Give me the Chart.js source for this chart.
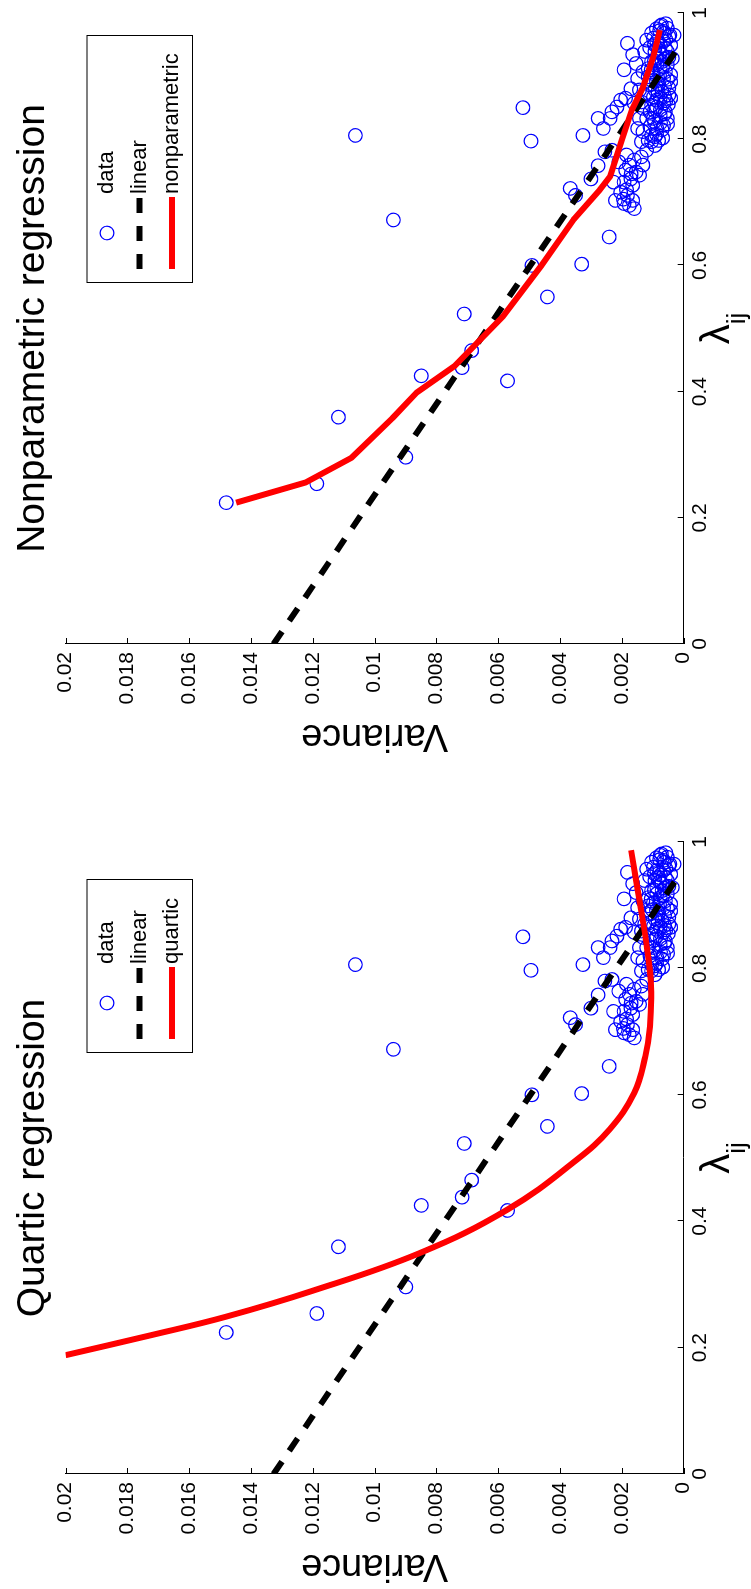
<!DOCTYPE html>
<html>
<head>
<meta charset="utf-8">
<script src="https://cdn.jsdelivr.net/npm/chart.js@4.4.1/dist/chart.umd.min.js"></script>
<style>
html, body { margin: 0; padding: 0; background: #fff; overflow: hidden; }
/* the figure is laid out landscape and turned a quarter turn, like the printed page */
#fig { position: absolute; left: 0; top: 0; width: 1589px; height: 751px;
       transform-origin: 0 0; transform: translateY(1589px) rotate(-90deg); background: #fff; }
#quartic { position: absolute; left: 0; top: 0; }
#nonpar { position: absolute; left: 800px; top: 0; }
</style>
</head>
<body>
<div id="fig">
  <canvas id="quartic" width="800" height="751"></canvas>
  <canvas id="nonpar" width="789" height="751"></canvas>
</div>
<script>
'use strict';
//___________DATA__________________
var xTickVals = [0, 0.2, 0.4, 0.6, 0.8, 1];
var xTickLabels = ['0', '0.2', '0.4', '0.6', '0.8', '1'];
var yTickVals = [0, 0.002, 0.004, 0.006, 0.008, 0.01, 0.012, 0.014, 0.016, 0.018, 0.02];
var yTickLabels = ['0', '0.002', '0.004', '0.006', '0.008', '0.01', '0.012', '0.014', '0.016', '0.018', '0.02'];

// scattered observations (lambda_ij, variance)
var dataLambda = [
  0.224, 0.254, 0.3595, 0.296, 0.425, 0.438, 0.465, 0.417, 0.523, 0.550,
  0.600, 0.602, 0.645, 0.672, 0.806, 0.850, 0.797, 0.806, 0.722, 0.711,
  0.737, 0.758, 0.780,
  0.7825, 0.764, 0.751, 0.759, 0.767, 0.772, 0.759, 0.748, 0.737, 0.732,
  0.727, 0.743, 0.716, 0.711, 0.703, 0.698, 0.703, 0.690, 0.695, 0.732,
  0.7825, 0.796, 0.804, 0.775, 0.745, 0.720, 0.705,
  0.952, 0.910, 0.934, 0.920, 0.896, 0.880, 0.862, 0.8434, 0.833, 0.817,
  0.833, 0.851, 0.865, 0.857, 0.878, 0.907, 0.939, 0.957, 0.968, 0.955,
  0.979, 0.971, 0.976, 0.963, 0.955, 0.949, 0.939, 0.934, 0.928, 0.923,
  0.912, 0.904, 0.912, 0.918, 0.902, 0.896, 0.888, 0.886, 0.870, 0.867,
  0.875, 0.881, 0.865, 0.857, 0.851, 0.843, 0.849, 0.833, 0.833, 0.838,
  0.833, 0.822, 0.817, 0.820, 0.812, 0.806, 0.798, 0.798, 0.790, 0.833,
  0.817, 0.796, 0.8434, 0.928, 0.965, 0.944, 0.944, 0.939, 0.891, 0.865,
  0.878, 0.899, 0.859, 0.907, 0.918, 0.923, 0.870, 0.854,
  0.960, 0.975, 0.981, 0.948, 0.927, 0.892, 0.861, 0.826,
  0.965, 0.958, 0.950, 0.945, 0.937, 0.930, 0.924, 0.915, 0.910, 0.901,
  0.895, 0.893, 0.884, 0.876, 0.872, 0.868, 0.862, 0.855, 0.847, 0.845,
  0.840, 0.828, 0.824, 0.815, 0.808, 0.802, 0.972, 0.983, 0.968
];
var dataVar = [
  0.0148, 0.01187, 0.01117, 0.00899, 0.00849, 0.00717, 0.00686, 0.0057, 0.0071, 0.00441,
  0.00491, 0.00330, 0.00241, 0.00939, 0.01062, 0.0052, 0.00494, 0.00326, 0.00367, 0.0035,
  0.0030, 0.00277, 0.00255,
  0.00232, 0.0021, 0.00188, 0.00176, 0.0016, 0.00137, 0.00132, 0.00154, 0.00171, 0.00193,
  0.00165, 0.00143, 0.00204, 0.00182, 0.00165, 0.00193, 0.00221, 0.0016, 0.00176, 0.00227,
  0.0012, 0.00104, 0.00093, 0.00185, 0.0017, 0.00185, 0.00195,
  0.00182, 0.00193, 0.00165, 0.00154, 0.00149, 0.00171, 0.00204, 0.00232, 0.00277, 0.0026,
  0.00238, 0.00216, 0.00188, 0.0016, 0.00143, 0.00132, 0.00126, 0.0012, 0.00104, 0.00087,
  0.00076, 0.00065, 0.00053, 0.00048, 0.00065, 0.00042, 0.00053, 0.0007, 0.00087, 0.00104,
  0.00115, 0.00098, 0.00076, 0.00053, 0.00042, 0.00065, 0.00081, 0.00109, 0.00126, 0.00098,
  0.0007, 0.00048, 0.00042, 0.00065, 0.00087, 0.00109, 0.00132, 0.0012, 0.00098, 0.00076,
  0.00053, 0.00065, 0.00087, 0.00109, 0.00132, 0.00104, 0.00081, 0.00115, 0.00093, 0.00143,
  0.00149, 0.00137, 0.00059, 0.00037, 0.00031, 0.00059, 0.00081, 0.00093, 0.00042, 0.00076,
  0.00093, 0.00115, 0.00137, 0.00059, 0.00087, 0.0007, 0.00048, 0.00104,
  0.00098, 0.00088, 0.00072, 0.00075, 0.00062, 0.00088, 0.00058, 0.00075,
  0.00045, 0.00058, 0.00095, 0.0011, 0.00078, 0.00048, 0.00095, 0.00068, 0.00105, 0.00078,
  0.00052, 0.00102, 0.00062, 0.00083, 0.00112, 0.00062, 0.00088, 0.0005, 0.00075, 0.00095,
  0.00062, 0.00095, 0.00052, 0.0007, 0.00088, 0.00068, 0.00078, 0.00058, 0.00062
];

// linear fit (same on both panels)
var linLambda = [0, 0.94];
var linVar = [0.01327, 0.00025];

// quartic fit
var quartLambda = [0.188, 0.22, 0.249, 0.29, 0.349, 0.419, 0.498, 0.545, 0.603, 0.661,
                   0.708, 0.772, 0.829, 0.898, 0.987];
var quartVar = [0.0200, 0.0172, 0.0148, 0.0120, 0.00857, 0.00568, 0.00344, 0.0024, 0.0016, 0.00124,
                0.00109, 0.00106, 0.00118, 0.0014, 0.0017];

// nonparametric fit
var npLambda = [0.224, 0.256, 0.295, 0.358, 0.398, 0.441, 0.519, 0.600, 0.672, 0.720,
                0.741, 0.799, 0.846, 0.883, 0.931, 0.973];
var npVar = [0.01448, 0.01223, 0.01075, 0.00942, 0.00865, 0.0074, 0.00585, 0.0046, 0.00357, 0.00271,
             0.00238, 0.0020, 0.00168, 0.00131, 0.00098, 0.00077];

//___________HELPERS__________________
var FONT = '"Liberation Sans", Arial, Helvetica, sans-serif';

function toPoints(xs, ys) {
  var pts = [];
  for (var i = 0; i < xs.length; i++) {
    pts.push({x: xs[i], y: ys[i]});
  }
  return pts;
}

//___________MATLAB STYLE DECORATION (ticks, labels, legend)__________________
var matlabDecor = {
  id: 'matlabDecor',
  afterDraw: function(chart, args, o) {
    var ctx = chart.ctx;
    var ca = chart.chartArea;
    var xs = chart.scales.x;
    var ys = chart.scales.y;
    ctx.save();

    // ticks pointing inwards, left and bottom only
    ctx.strokeStyle = '#000';
    ctx.lineWidth = 1;
    ctx.beginPath();
    xs.ticks.forEach(function(t) {
      var px = Math.round(xs.getPixelForValue(t.value)) + 0.5;
      ctx.moveTo(px, ca.bottom);
      ctx.lineTo(px, ca.bottom - 6);
    });
    ys.ticks.forEach(function(t) {
      var py = Math.round(ys.getPixelForValue(t.value)) + 0.5;
      ctx.moveTo(ca.left, py);
      ctx.lineTo(ca.left + 6, py);
    });
    ctx.stroke();

    var cx = (ca.left + ca.right) / 2;
    var cy = (ca.top + ca.bottom) / 2;
    ctx.fillStyle = '#000';

    // title
    ctx.font = '39px ' + FONT;
    ctx.textAlign = 'center';
    ctx.textBaseline = 'alphabetic';
    ctx.fillText(o.title, cx, 43.5);

    // y label
    ctx.save();
    ctx.translate(ca.left - 81, cy);
    ctx.rotate(-Math.PI / 2);
    ctx.font = '38px ' + FONT;
    ctx.fillText('Variance', 0, 0);
    ctx.restore();

    // x label  lambda_ij
    ctx.textAlign = 'left';
    ctx.font = '40px ' + FONT;
    var wl = ctx.measureText('\u03bb').width;
    ctx.font = '26px ' + FONT;
    var ws = ctx.measureText('ij').width;
    var x0 = cx - (wl + ws) / 2;
    ctx.font = '40px ' + FONT;
    ctx.fillText('\u03bb', x0, 729);
    ctx.font = '26px ' + FONT;
    ctx.fillText('ij', x0 + wl, 745);

    // legend box
    var lg = o.legend;
    ctx.fillStyle = '#fff';
    ctx.fillRect(lg.x, lg.y, lg.w, lg.h);
    ctx.strokeStyle = '#000';
    ctx.lineWidth = 1;
    ctx.strokeRect(lg.x + 0.5, lg.y + 0.5, lg.w, lg.h);

    var sets = [chart.data.datasets[2], chart.data.datasets[1], chart.data.datasets[0]];
    ctx.font = '22px ' + FONT;
    ctx.textBaseline = 'middle';
    for (var i = 0; i < sets.length; i++) {
      var ds = sets[i];
      var ry = lg.y + 20.5 + i * 32.5;
      var sx = lg.x + 14;
      var ex = lg.x + 86;
      ctx.save();
      if (ds.showLine) {
        ctx.strokeStyle = ds.borderColor;
        ctx.lineWidth = ds.borderWidth;
        ctx.setLineDash(ds.borderDash || []);
        ctx.beginPath();
        ctx.moveTo(sx, ry);
        ctx.lineTo(ex, ry);
        ctx.stroke();
      } else {
        ctx.strokeStyle = ds.pointBorderColor;
        ctx.lineWidth = ds.pointBorderWidth;
        ctx.beginPath();
        ctx.arc((sx + ex) / 2, ry, ds.pointRadius, 0, Math.PI * 2);
        ctx.stroke();
      }
      ctx.restore();
      ctx.fillStyle = '#000';
      ctx.fillText(lg.labels[i], ex + 3, ry);
    }
    ctx.restore();
  }
};

//___________BUILD ONE PANEL__________________
function drawPanel(canvasId, fitX, fitY, fitTension, fitName, title, pad, legendBox) {
  var ctx = document.getElementById(canvasId).getContext('2d');
  return new Chart(ctx, {
    type: 'scatter',
    data: {
      datasets: [
        {
          label: fitName,
          data: toPoints(fitX, fitY),
          showLine: true,
          borderColor: '#ff0000',
          borderWidth: 6,
          borderJoinStyle: 'round',
          tension: fitTension,
          pointRadius: 0,
          order: 0
        },
        {
          label: 'linear',
          data: toPoints(linLambda, linVar),
          showLine: true,
          borderColor: '#000000',
          borderWidth: 6,
          borderDash: [15, 13],
          tension: 0,
          pointRadius: 0,
          order: 1
        },
        {
          label: 'data',
          data: toPoints(dataLambda, dataVar),
          showLine: false,
          pointStyle: 'circle',
          pointRadius: 6.8,
          pointBorderWidth: 1.2,
          pointBorderColor: '#0000ff',
          pointBackgroundColor: 'rgba(0,0,0,0)',
          order: 2
        }
      ]
    },
    options: {
      responsive: false,
      animation: false,
      events: [],
      devicePixelRatio: 1,
      layout: { padding: pad },
      plugins: {
        legend: { display: false },
        tooltip: { enabled: false },
        title: { display: false },
        matlabDecor: { title: title, legend: legendBox }
      },
      scales: {
        x: {
          type: 'linear',
          min: 0,
          max: 1,
          afterBuildTicks: function(s) { s.ticks = xTickVals.map(function(v) { return {value: v}; }); },
          afterFit: function(s) { s.height = 60; },
          grid: { display: true, drawOnChartArea: false, drawTicks: false },
          border: { display: true, color: '#000', width: 1 },
          ticks: {
            color: '#000', padding: 4, maxRotation: 0, autoSkip: false,
            font: { family: FONT, size: 21 },
            callback: function(v, i) { return xTickLabels[i]; }
          }
        },
        y: {
          type: 'linear',
          min: 0,
          max: 0.02,
          afterBuildTicks: function(s) { s.ticks = yTickVals.map(function(v) { return {value: v}; }); },
          afterFit: function(s) { s.width = 80; },
          grid: { display: true, drawOnChartArea: false, drawTicks: false },
          border: { display: true, color: '#000', width: 1 },
          ticks: {
            color: '#000', padding: 8, autoSkip: false,
            font: { family: FONT, size: 21 },
            callback: function(v, i) { return yTickLabels[i]; }
          }
        }
      }
    },
    plugins: [matlabDecor]
  });
}

drawPanel('quartic', quartLambda, quartVar, 0.4, 'quartic', 'Quartic regression',
  {left: 35, right: 53, top: 65.5, bottom: 7.3},
  {x: 536, y: 86.5, w: 173, h: 105.5, labels: ['data', 'linear', 'quartic']});

drawPanel('nonpar', npLambda, npVar, 0, 'nonparametric', 'Nonparametric regression',
  {left: 65, right: 13, top: 65.5, bottom: 7.3},
  {x: 506, y: 86.5, w: 247, h: 105.5, labels: ['data', 'linear', 'nonparametric']});
</script>
</body>
</html>
